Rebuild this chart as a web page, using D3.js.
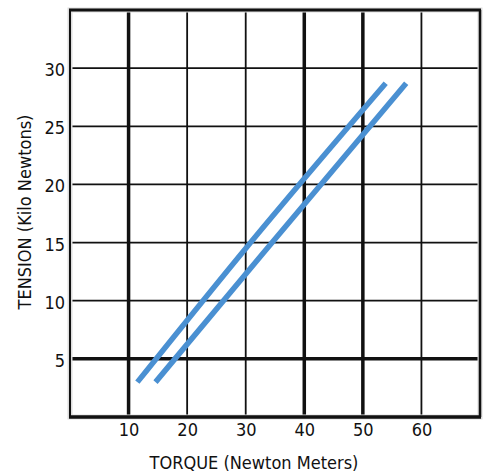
<!DOCTYPE html>
<html lang="en">
<head>
<meta charset="UTF-8">
<title>Tension vs Torque</title>
<script src="https://cdn.jsdelivr.net/npm/d3@7"></script>
<style>
  html, body { margin: 0; padding: 0; background: #fff; }
  svg { display: block; }
  text { font-family: "DejaVu Sans Condensed", "DejaVu Sans", sans-serif; font-stretch: condensed; }
</style>
</head>
<body>
<svg width="486" height="475"></svg>
<script>
// tick labels / grid
var xTicks = [10, 20, 30, 40, 50, 60];
var yTicks = [5, 10, 15, 20, 25, 30];
// heavy grid lines
var xHeavy = [10, 40, 50];
var yHeavy = [5];

// the two bands (torque, tension)
var lowerTorque = [11.5, 30, 53.9];
var lowerTension = [3, 14.5, 28.7];
var upperTorque = [14.6, 33, 57.4];
var upperTension = [3, 14.1, 28.7];

var svg = d3.select("svg");

// plot area
var x = d3.scaleLinear().domain([0, 70]).range([70, 480]);
var y = d3.scaleLinear().domain([0, 35]).range([417, 10]);

var grid = svg.append("g").attr("class", "grid");

// vertical lines
grid.selectAll("line.v")
    .data(xTicks)
    .enter().append("line")
    .attr("class", "v")
    .attr("x1", function (d) { return x(d); })
    .attr("x2", function (d) { return x(d); })
    .attr("y1", y(35))
    .attr("y2", y(0))
    .attr("stroke", "#111")
    .attr("stroke-width", function (d) { return xHeavy.indexOf(d) > -1 ? 3.5 : 1.8; });

// horizontal lines
grid.selectAll("line.h")
    .data(yTicks)
    .enter().append("line")
    .attr("class", "h")
    .attr("x1", x(0))
    .attr("x2", x(70))
    .attr("y1", function (d) { return y(d); })
    .attr("y2", function (d) { return y(d); })
    .attr("stroke", "#111")
    .attr("stroke-width", function (d) { return yHeavy.indexOf(d) > -1 ? 3.5 : 1.8; });

// frame
grid.append("rect")
    .attr("x", x(0))
    .attr("y", y(35))
    .attr("width", x(70) - x(0))
    .attr("height", y(0) - y(35))
    .attr("fill", "none")
    .attr("stroke", "#ddd")
    .attr("stroke-width", 5);
grid.append("line").attr("x1", x(0)).attr("x2", x(0)).attr("y1", y(35)).attr("y2", y(0))
    .attr("stroke", "#111").attr("stroke-width", 2);
grid.append("line").attr("x1", x(70)).attr("x2", x(70)).attr("y1", y(35)).attr("y2", y(0))
    .attr("stroke", "#111").attr("stroke-width", 2.5);
grid.append("line").attr("x1", x(0) - 1).attr("x2", x(70) + 1).attr("y1", y(35)).attr("y2", y(35))
    .attr("stroke", "#111").attr("stroke-width", 3);
grid.append("line").attr("x1", x(0) - 1).attr("x2", x(70) + 1).attr("y1", y(0)).attr("y2", y(0))
    .attr("stroke", "#111").attr("stroke-width", 3.5);

// bands
var line = d3.line()
    .x(function (d) { return x(d[0]); })
    .y(function (d) { return y(d[1]); })
    .curve(d3.curveMonotoneX);

var series = [d3.zip(lowerTorque, lowerTension), d3.zip(upperTorque, upperTension)];

svg.append("g").selectAll("path")
    .data(series)
    .enter().append("path")
    .attr("d", line)
    .attr("fill", "none")
    .attr("stroke", "#4a90d2")
    .attr("stroke-width", 5.5)
    .attr("stroke-linejoin", "round")
    .attr("stroke-linecap", "butt");

// axes labels
var xAxis = d3.axisBottom(x).tickValues(xTicks).tickSize(0).tickPadding(6);
svg.append("g")
    .attr("transform", "translate(0," + y(0) + ")")
    .call(xAxis)
    .call(function (g) { g.select(".domain").remove(); })
    .selectAll("text")
    .attr("font-family", null)
    .attr("font-size", 18)
    .attr("fill", "#111");

var yAxis = d3.axisLeft(y).tickValues(yTicks).tickSize(0).tickPadding(5);
svg.append("g")
    .attr("transform", "translate(" + x(0) + ",0)")
    .call(yAxis)
    .call(function (g) { g.select(".domain").remove(); })
    .selectAll("text")
    .attr("font-family", null)
    .attr("font-size", 18)
    .attr("dy", "0.42em")
    .attr("fill", "#111");

svg.append("text")
    .attr("x", 254)
    .attr("y", 469)
    .attr("text-anchor", "middle")
    .attr("font-size", 18)
    .attr("fill", "#111")
    .text("TORQUE (Newton Meters)");

svg.append("text")
    .attr("transform", "translate(31,212) rotate(-90)")
    .attr("text-anchor", "middle")
    .attr("font-size", 18)
    .attr("fill", "#111")
    .text("TENSION (Kilo Newtons)");
</script>
</body>
</html>
